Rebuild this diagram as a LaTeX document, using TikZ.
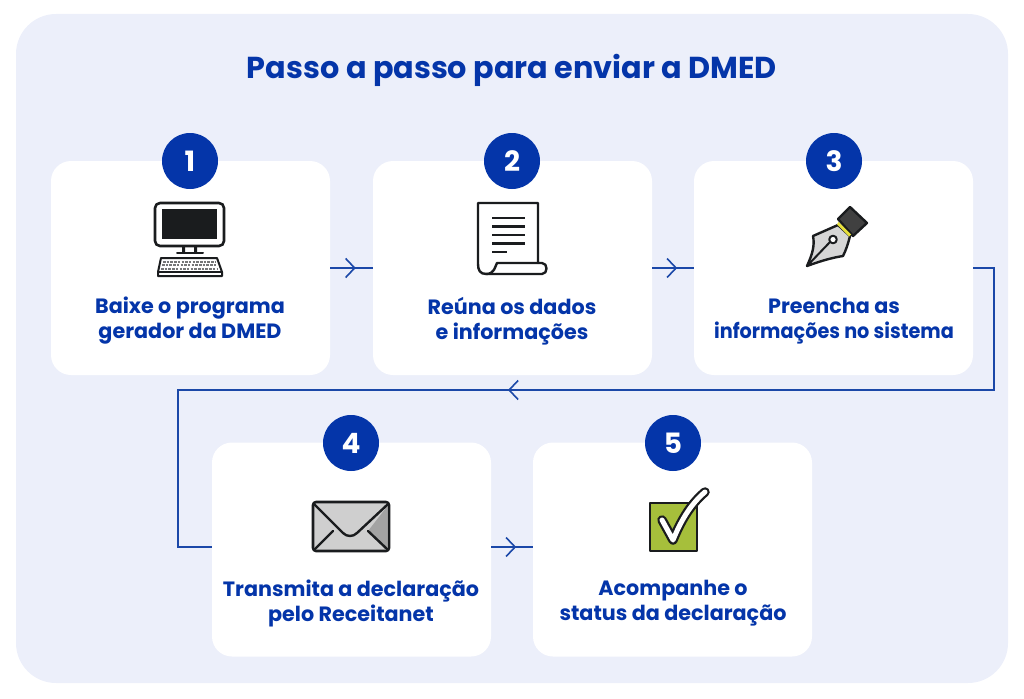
\documentclass[tikz,border=0pt]{standalone}
\usepackage{fontspec}
\setmainfont{Poppins}
\usetikzlibrary{arrows.meta,decorations.markings}
\definecolor{dmedblue}{HTML}{0435A9}
\definecolor{panelblue}{HTML}{ECEFFA}
\definecolor{flowblue}{HTML}{1B48A8}
\definecolor{iconblack}{HTML}{1A1C1E}
\definecolor{checkgreen}{HTML}{A6BF3B}
\definecolor{penyellow}{HTML}{E6E03C}
\tikzset{
  card/.style={fill=white, rounded corners=20pt, minimum width=279pt, minimum height=214pt, inner sep=0pt},
  badge/.style={circle, fill=dmedblue, text=white, minimum size=56pt, inner sep=0pt, font=\bfseries\fontsize{28}{28}\selectfont},
  steptext/.style={text=dmedblue, align=center, font=\bfseries\fontsize{20.7}{25}\selectfont},
  flow/.style={draw=flowblue, line width=1.6pt},
  chevron/.style={-{Straight Barb[length=9pt,width=19pt,line width=1.6pt]}},
  midchevron/.style={postaction={decorate}, decoration={markings, mark=at position 0.6 with {\arrow{Straight Barb[length=9pt,width=19pt,line width=1.6pt]}}}},
  iconline/.style={draw=iconblack, line width=2.4pt, line join=round, line cap=round}
}
\begin{document}
\begin{tikzpicture}[x=1pt, y=-1pt]
  \useasboundingbox (0, 0) rectangle (1024, 698);
  \node[fill=panelblue, rounded corners=40pt, minimum width=992pt, minimum height=669pt, inner sep=0pt] (panel) at (512, 348.5) {};
  \node[text=dmedblue, font=\bfseries\fontsize{30.3}{32}\selectfont] (title) at (512, 70) {Passo a passo para enviar a DMED};

  \node[card] (c1) at (190.5, 268) {};
  \node[card] (c2) at (512.5, 268) {};
  \node[card] (c3) at (833.5, 268) {};
  \node[card] (c4) at (351.5, 549.5) {};
  \node[card] (c5) at (672.5, 549.5) {};

  \node[badge] (n1) at (190, 161) {1};
  \node[badge] (n2) at (512, 161) {2};
  \node[badge] (n3) at (834, 161) {3};
  \node[badge] (n4) at (351, 443) {4};
  \node[badge] (n5) at (673, 443) {5};

  \node[steptext] (t1) at (190, 321) {Baixe o programa\\gerador da DMED};
  \node[steptext] (t2) at (512, 321) {Reúna os dados\\e informações};
  \node[steptext] (t3) at (834, 321) {Preencha as\\\scalebox{0.93}[1]{informações no sistema}};
  \node[steptext] (t4) at (351, 603) {Transmita a declaração\\pelo Receitanet};
  \node[steptext] (t5) at (673, 603) {Acompanhe o\\status da declaração};

  % connectors
  \coordinate (turna) at (994, 268);
  \coordinate (turnb) at (994, 390);
  \coordinate (turnc) at (512, 390);
  \coordinate (turnd) at (178, 390);
  \coordinate (turne) at (178, 547);
  \draw [flow, midchevron] (c1.east) -- (c2.west);
  \draw [flow, midchevron] (c2.east) -- (c3.west);
  \draw [flow] (c3.east) -- (turna) -- (turnb) -- (turnd) -- (turne) -- ([yshift=2.5pt]c4.west);
  \draw [flow, chevron] (turnb) -- ([xshift=-4pt]turnc);
  \draw [flow, midchevron] ([yshift=2.5pt]c4.east) -- ([yshift=2.5pt]c5.west);

  % computer
  \draw [iconline, line width=2.6pt, rounded corners=5pt, fill=white] (155, 203) rectangle (224, 246);
  \fill [iconblack] (162, 209) rectangle (217, 239);
  \fill [iconblack] (182, 246) rectangle (185, 252) (194, 246) rectangle (197, 252);
  \draw [iconline, line width=2pt] (177, 253) -- (203, 253);
  \draw [iconline, line width=2pt, fill=white] (161, 258) -- (217, 258) -- (222, 272) -- (222, 276) -- (158, 276) -- (158, 272) -- cycle;
  \draw [iconblack, line width=1.4pt] (158, 272) -- (222, 272);
  \foreach \y/\xa/\xb in {261.5/163/215, 265/162/216, 268.5/161/218}
    \draw [iconblack!60, line width=2pt, dash pattern=on 2.5pt off 1.2pt] (\xa, \y) -- (\xb, \y);

  % document
  \draw [iconline, fill=white] (478, 203) -- (538, 203) -- (538, 263) -- (542, 263)
    .. controls (548, 263) and (548, 274) .. (542, 274) -- (486, 274)
    .. controls (480, 274) and (478, 270) .. (478, 264) -- cycle;
  \draw [iconline] (538, 263) -- (497, 263) .. controls (495, 266) and (495, 274) .. (486, 274);
  \foreach \y/\xb in {218/525, 226.5/525, 235/525, 243.5/525, 252/507}
    \draw [draw=iconblack, line width=2.3pt] (492, \y) -- (\xb, \y);

  % pen
  \draw [iconline, fill=black!16] (807, 266) .. controls (812, 255) and (815, 246) .. (813, 236)
    -- (838, 225) -- (850, 236) .. controls (848, 244) and (846, 250) .. (843, 256)
    .. controls (830, 258) and (818, 262) .. cycle;
  \draw [iconline, fill=black!75] (838, 219) -- (850, 207) -- (867, 223) -- (853, 236) -- cycle;
  \fill [penyellow] (838.5, 222) -- (851, 234.5) -- (849, 236.5) -- (837, 224.5) -- cycle;
  \draw [iconline, line width=2pt] (807, 266) -- (830, 242);
  \draw [iconline, line width=2pt, fill=white] (833, 239.5) circle (3.8pt);

  % envelope
  \draw [iconline, line width=2.6pt, rounded corners=3pt, fill=black!19] (313, 502) rectangle (389, 551);
  \fill [black!36] (387.5, 506) -- (368, 531) -- (387.5, 548) -- cycle;
  \draw [iconline, line width=2.4pt] (314, 504) -- (343, 533) .. controls (347, 537) and (353, 537) .. (357, 533) -- (387, 505);
  \draw [iconline, line width=2.4pt] (315, 549) -- (333, 531);
  \draw [iconline, line width=2.4pt] (368, 531) -- (387, 549);

  % check box
  \draw [iconline, fill=checkgreen] (650, 503) rectangle (697, 551);
  \draw [iconblack, line width=9.5pt, line cap=round, line join=round] (662, 520) -- (673, 540) .. controls (682, 518) and (692, 503) .. (705, 492);
  \draw [white, line width=5pt, line cap=round, line join=round] (662, 520) -- (673, 540) .. controls (682, 518) and (692, 503) .. (705, 492);
\end{tikzpicture}
\end{document}
